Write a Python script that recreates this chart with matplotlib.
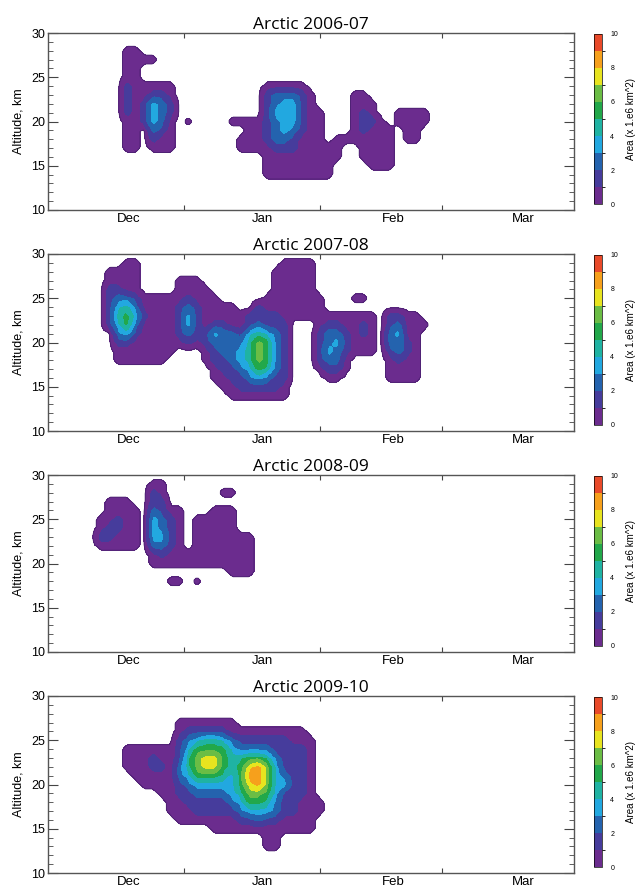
import numpy as np
import matplotlib
matplotlib.use("Agg")
import matplotlib.pyplot as plt
from matplotlib.colors import ListedColormap, BoundaryNorm
from matplotlib.cm import ScalarMappable
from matplotlib.ticker import MultipleLocator

plt.rcParams['font.family'] = ['Liberation Sans', 'DejaVu Sans']

# analysis grid: days since 1 Dec (every 2 days) and altitude (every 1 km)
days = np.arange(0, 121, 2)
altitudes = np.arange(10, 31)

months = ['Dec', 'Jan', 'Feb', 'Mar']
month_label_days = [18.3, 49, 78.8, 108.5]
month_start_days = [31, 62, 90]

area_levels = list(range(0, 11))
area_ticks = [0, 2, 4, 6, 8, 10]
band_colors = ['#6b2c8e', '#463c9c', '#2463ae', '#22a8e0', '#1fb3a3',
               '#22a84a', '#6bbd45', '#e8e41f', '#f6a01c', '#e94a2a']

# PSC area bands, one digit per 2-day step: altitude -> [(first day, bands)]
season_0607 = {
    28: [(18, "00")],
    27: [(18, "0000")],
    26: [(18, "00")],
    25: [(18, "00")],
    24: [(18, "100000"), (50, "00000")],
    23: [(18, "100110"), (50, "122210"), (70, "00")],
    22: [(18, "101321"), (50, "123310"), (70, "000")],
    21: [(18, "101321"), (50, "1333100"), (70, "010"), (80, "0000")],
    20: [(18, "001320"), (32, "0"), (42, "0000"), (50, "1233100"), (70, "0110"), (80, "0000")],
    19: [(18, "00"), (24, "210"), (46, "00"), (50, "1232100"), (70, "01000"), (82, "00")],
    18: [(18, "00"), (24, "100"), (44, "000"), (50, "1221000"), (66, "0000000"), (82, "00")],
    17: [(18, "00"), (24, "000"), (44, "000"), (50, "011100000"), (72, "0000")],
    16: [(50, "000000000"), (72, "0000")],
    15: [(50, "00000000"), (74, "000")],
    14: [(50, "00000000")],
}

season_0708 = {
    29: [(18, "00"), (54, "0000")],
    28: [(14, "0000"), (52, "00000")],
    27: [(14, "0000"), (30, "000"), (52, "00000")],
    26: [(14, "1100"), (30, "0000"), (52, "00000")],
    25: [(14, "12210000"), (30, "01000"), (50, "0000000"), (70, "00")],
    24: [(14, "13420000"), (30, "1210000"), (48, "10000000")],
    23: [(14, "1453100013100000111100000000000"), (78, "1100")],
    22: [(14, "135200001310110012111"), (62, "0110010"), (78, "12000")],
    21: [(16, "23100001211322134321"), (62, "1221010"), (78, "2300")],
    20: [(16, "11000000101222246521"), (62, "1231000"), (78, "2210")],
    19: [(16, "0000000"), (36, "0122346521"), (62, "1321000"), (78, "1210")],
    18: [(16, "000000"), (36, "0112346521"), (62, "1220"), (78, "0100")],
    17: [(38, "011235421"), (62, "0110"), (78, "0000")],
    16: [(38, "001123211"), (64, "00"), (78, "0000")],
    15: [(40, "00111110")],
    14: [(42, "0000000")],
}

season_0809 = {
    29: [(24, "00")],
    28: [(24, "10"), (40, "00")],
    27: [(14, "000"), (24, "11")],
    26: [(14, "0000"), (24, "2100"), (38, "000")],
    25: [(12, "00100"), (24, "3210"), (34, "00000")],
    24: [(12, "01100"), (24, "3210"), (34, "00000")],
    23: [(12, "11000"), (24, "3310"), (34, "0000000")],
    22: [(12, "00000"), (24, "2210"), (34, "0000000")],
    21: [(24, "010000000000")],
    20: [(24, "000000000000")],
    19: [(42, "000")],
    18: [(28, "00"), (34, "0")],
}

season_0910 = {
    27: [(30, "0000000")],
    26: [(30, "011111000000000")],
    25: [(30, "1234432111111000")],
    24: [(18, "0000001355553222211110")],
    23: [(18, "0001001467754455421110")],
    22: [(18, "0001102467754578631110")],
    21: [(20, "000002355543588632110")],
    20: [(22, "00001233333578633110")],
    19: [(26, "001122223466531110")],
    18: [(28, "001111123554211000")],
    17: [(28, "000111112333211000")],
    16: [(30, "0000000112110000")],
    15: [(38, "000000000000")],
    14: [(50, "00")],
    13: [(50, "00")],
}

seasons = [('Arctic 2006-07', season_0607), ('Arctic 2007-08', season_0708),
           ('Arctic 2008-09', season_0809), ('Arctic 2009-10', season_0910)]


def area_grid(rows):
    z = np.zeros((len(altitudes), len(days)))
    for alt, runs in rows.items():
        for start, bands in runs:
            j0 = start // 2
            for k, b in enumerate(bands):
                z[alt - altitudes[0], j0 + k] = int(b) + 0.5
    return z


def fine_field(z, f=4, width=5):
    # split every grid cell into f x f sub-cells, then soften the block edges
    zf = np.kron(z, np.ones((f, f)))
    k = np.ones(width) / width
    zf = np.apply_along_axis(np.convolve, 1, zf, k, mode='same')
    zf = np.apply_along_axis(np.convolve, 0, zf, k, mode='same')
    x = days[0] - 1 + (np.arange(len(days) * f) + 0.5) * 2 / f
    y = altitudes[0] - 0.5 + (np.arange(len(altitudes) * f) + 0.5) / f
    return x, y, zf


cmap = ListedColormap(band_colors)
norm = BoundaryNorm(area_levels, cmap.N)
fill_levels = [0.25] + area_levels[1:]

W, H = 638, 891
fig = plt.figure(figsize=(W / 100, H / 100), dpi=100)
panel_tops = [33, 254, 475, 696]
panel_h = 177

for top, (title, rows) in zip(panel_tops, seasons):
    ax = fig.add_axes([48 / W, 1 - (top + panel_h) / H, 526 / W, panel_h / H])
    x, y, z = fine_field(area_grid(rows))
    ax.contourf(x, y, z, levels=fill_levels, cmap=cmap, norm=norm)
    ax.contour(x, y, z, levels=[0.25], colors='#4a2070', linewidths=0.6)

    ax.set_xlim(0, 120)
    ax.set_ylim(10, 30)
    ax.set_xticks(month_start_days, [''] * len(month_start_days))
    ax.set_xticks(month_label_days, months, minor=True)
    ax.tick_params(axis='x', which='major', direction='in', length=3.5, width=0.8,
                   top=True, bottom=True, color='#444444')
    ax.tick_params(axis='x', which='minor', length=0, labelsize=9.5, pad=2)
    ax.set_yticks([10, 15, 20, 25, 30])
    ax.yaxis.set_minor_locator(MultipleLocator(1))
    ax.tick_params(axis='y', which='major', direction='in', length=7, width=0.8,
                   left=True, right=True, labelsize=9, pad=2, color='#444444')
    ax.tick_params(axis='y', which='minor', direction='in', length=3.5, width=0.6,
                   left=True, right=True, color='#444444')
    for s in ax.spines.values():
        s.set_linewidth(1.0)
        s.set_color('#555555')
    ax.set_ylabel('Altitude, km', fontsize=9, labelpad=5)
    ax.set_title(title, fontsize=12.5, family=['Open Sans', 'DejaVu Sans'], pad=3)

    cax = fig.add_axes([594 / W, 1 - (top + panel_h - 6) / H, 8 / W, (panel_h - 7) / H])
    cb = fig.colorbar(ScalarMappable(norm=norm, cmap=cmap), cax=cax, ticks=area_ticks)
    cb.outline.set_linewidth(0.5)
    cax.tick_params(length=0, labelsize=5, pad=6)
    cb.set_label('Area (x 1.e6 km^2)', fontsize=7, labelpad=6)

fig.savefig('out.png', dpi=100)
